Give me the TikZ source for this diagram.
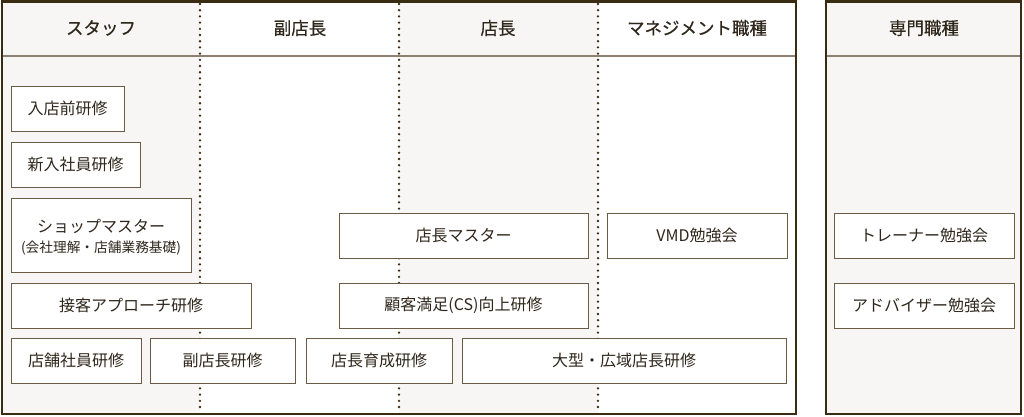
\documentclass[tikz,border=0pt]{standalone}
\usepackage{fontspec}
\setmainfont{Noto Sans CJK JP}
\newfontfamily\headfont[FakeBold=0.5]{Noto Sans CJK JP}
\definecolor{frame}{HTML}{3A2C12}
\definecolor{hline}{HTML}{8C8070}
\definecolor{boxline}{HTML}{6B5B45}
\definecolor{txt}{HTML}{2F271C}
\definecolor{colgray}{HTML}{F7F6F4}
\tikzset{
  box/.style={draw=boxline, line width=1pt, fill=white, inner sep=0pt, outer sep=0pt,
    anchor=north west, text=txt, font=\fontsize{16}{19}\selectfont, align=center},
  head/.style={text=txt, font=\headfont\fontsize{17.5}{20}\selectfont, inner sep=0pt},
  dotline/.style={draw=frame, line width=2.6pt, line cap=round, dash pattern=on 0pt off 6.2pt},
  outer/.style={draw=frame, line width=2.5pt},
}
\newcommand{\bx}[6]{\node[box, minimum width=#4-#2, minimum height=#5-#3] (#1) at (#2,#3) {#6};}
\begin{document}
\begin{tikzpicture}[x=1pt,y=-1pt]
\useasboundingbox (0,0) rectangle (1024,416);
% column backgrounds
\fill[colgray] (2,1) rectangle (200,414);
\fill[colgray] (399,1) rectangle (598,414);
\fill[colgray] (826,1) rectangle (1021,414);
% header lines
\draw[hline, line width=1.5pt] (2,56) -- (796,56);
\draw[hline, line width=1.5pt] (826,56) -- (1021,56);
% dotted separators
\coordinate (d1t) at (200,4); \coordinate (d1b) at (200,412);
\coordinate (d2t) at (399,4); \coordinate (d2b) at (399,412);
\coordinate (d3t) at (598,4); \coordinate (d3b) at (598,412);
\draw[dotline] (d1t) -- (d1b);
\draw[dotline] (d2t) -- (d2b);
\draw[dotline] (d3t) -- (d3b);
% frames
\draw[outer] (2,1.25) rectangle (796,414);
\draw[outer] (826,1.25) rectangle (1021,414);
% headers
\node[head] (h1) at (101,28) {スタッフ};
\node[head] (h2) at (300,28) {副店長};
\node[head] (h3) at (498,28) {店長};
\node[head] (h4) at (697,28) {マネジメント職種};
\node[head] (h5) at (924,28) {専門職種};
% boxes
\bx{b1}{11}{86}{124}{131}{入店前研修}
\bx{b2}{11}{142}{140}{187}{新入社員研修}
\node[box, minimum width=180, minimum height=74] (b3) at (11,198) {};
\node[text=txt, font=\fontsize{16}{19}\selectfont, inner sep=0pt] (b3a) at (101,226.5) {ショップマスター};
\node[text=txt, font=\fontsize{13.7}{16}\selectfont, inner sep=0pt] (b3b) at (101,248.5) {(会社理解・店舗業務基礎)};
\bx{b4}{11}{283}{251}{328}{接客アプローチ研修}
\bx{b5}{11}{338}{141}{383}{店舗社員研修}
\bx{b6}{150}{338}{295}{383}{副店長研修}
\bx{b7}{306}{338}{452}{383}{店長育成研修}
\bx{b8}{462}{338}{786}{383}{大型・広域店長研修}
\bx{b9}{339}{213}{588}{258}{店長マスター}
\bx{b10}{339}{283}{588}{328}{顧客満足(CS)向上研修}
\bx{b11}{607}{213}{787}{258}{VMD勉強会}
\bx{b12}{834}{213}{1014}{258}{トレーナー勉強会}
\bx{b13}{834}{283}{1014}{328}{アドバイザー勉強会}
\end{tikzpicture}
\end{document}
